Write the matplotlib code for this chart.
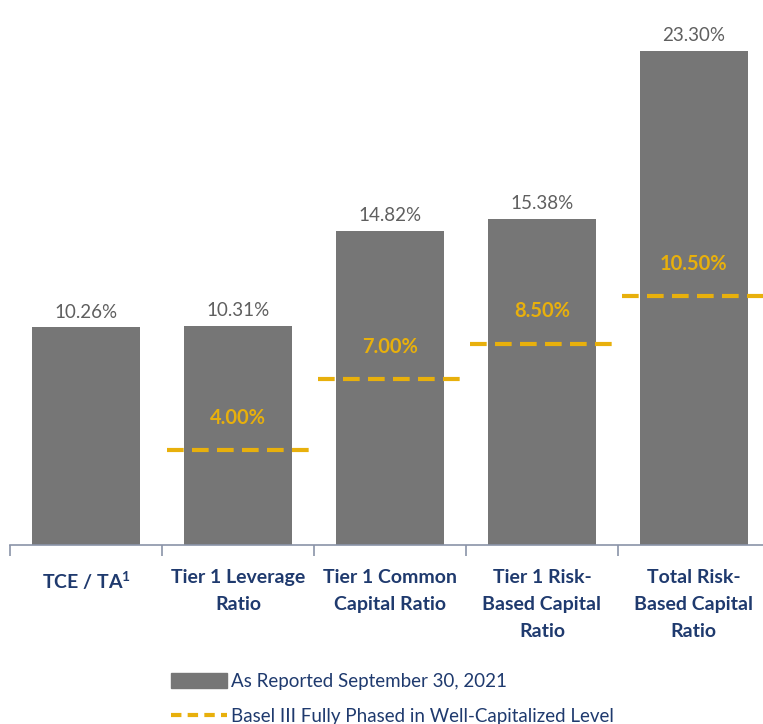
import matplotlib
matplotlib.use("Agg")
import matplotlib.pyplot as plt
from matplotlib.patches import Patch
from matplotlib.lines import Line2D

categories = ["TCE / TA$^{\\mathregular{1}}$", "Tier 1 Leverage\nRatio", "Tier 1 Common\nCapital Ratio",
              "Tier 1 Risk-\nBased Capital\nRatio", "Total Risk-\nBased Capital\nRatio"]
reported = [10.26, 10.31, 14.82, 15.38, 23.30]
basel = [None, 4.00, 7.00, 8.50, 10.50]
legend_labels = ["As Reported September 30, 2021", "Basel III Fully Phased in Well-Capitalized Level"]

BAR = "#767676"
GOLD = "#E8B00C"
NAVY = "#1F3A6E"
VAL = "#5f5f5f"

plt.rcParams['font.family'] = ['Lato', 'DejaVu Sans']

fig = plt.figure(figsize=(7.63, 7.24), dpi=100)
ax = fig.add_axes([10/763, 1-545/724, 753/763, 545/724])
x = list(range(len(categories)))
ax.bar(x, reported, width=0.71, color=BAR, zorder=2)
ax.set_xlim(-0.5, 4.455)
ax.set_ylim(0, 545/21.2)
for xi, v in zip(x, reported):
    ax.annotate(f"{v:.2f}%", (xi, v), xytext=(0, 5), textcoords="offset points",
                ha="center", va="bottom", fontsize=13.5, color=VAL)

ax2 = ax.twinx()
ax2.set_position(ax.get_position())
ax2.set_ylim(0, 545/23.7)
for xi, b in zip(x, basel):
    if b is None:
        continue
    ax2.plot([xi-0.47, xi+0.47], [b, b], color=GOLD, lw=3, ls=(0, (4.0, 2.0)),
             solid_capstyle="butt", dash_capstyle="butt", zorder=3)
    ax2.annotate(f"{b:.2f}%", (xi, b), xytext=(0, 16), textcoords="offset points",
                 ha="center", va="bottom", fontsize=14.5, color=GOLD, fontweight="bold")

for a in (ax, ax2):
    for s in ("top", "right", "left"):
        a.spines[s].set_visible(False)
    a.set_yticks([])
ax2.spines["bottom"].set_visible(False)
ax2.set_xticks([])
ax.spines["bottom"].set_color("#8a93a8")
ax.spines["bottom"].set_linewidth(1.2)

ax.set_xticks(x)
ax.set_xticklabels(categories, fontsize=14, fontweight="bold", color=NAVY, linespacing=1.72, va="top")
ax.tick_params(axis="x", which="major", length=0, pad=17)
ax.set_xticks([i - 0.5 for i in range(5)], minor=True)
ax.tick_params(axis="x", which="minor", length=8, width=1.2, color="#8a93a8", direction="out")

handles = [Patch(facecolor=BAR, edgecolor=BAR),
           Line2D([0], [0], color=GOLD, lw=3, ls=(0, (2.5, 1.5)))]
fig.legend(handles, legend_labels, loc="upper left", bbox_to_anchor=(154/763, 1-656/724),
           frameon=False, fontsize=13.5, labelcolor=NAVY, handlelength=3.0, handleheight=0.9,
           handletextpad=0.2, labelspacing=0.95)

fig.savefig("out.png", dpi=100)
